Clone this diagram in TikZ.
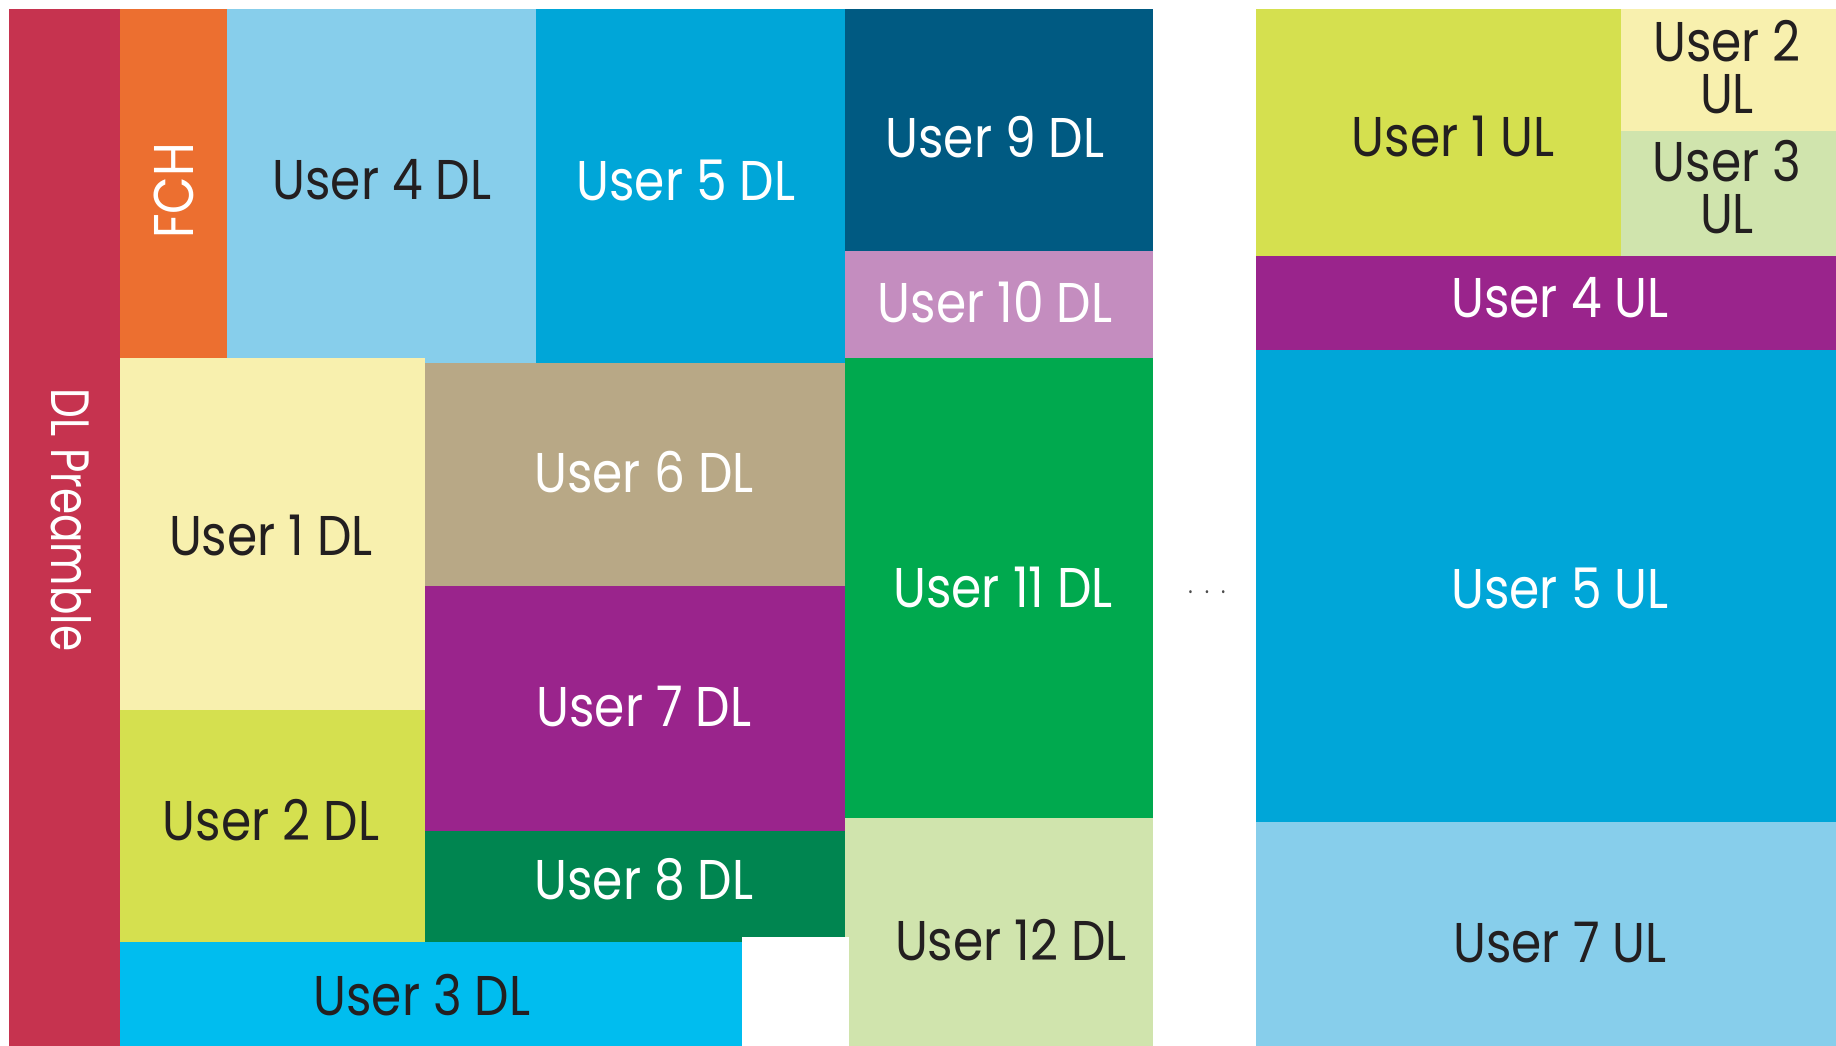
\documentclass[tikz,border=0pt]{standalone}
\usepackage{fontspec}
\setmainfont{Poppins}[FakeStretch=0.87]
\newfontfamily\narrowfont{Poppins}[FakeStretch=0.78]
\definecolor{ink}{HTML}{231F20}
\definecolor{preamble}{HTML}{C6334F}
\definecolor{fch}{HTML}{EC6F30}
\definecolor{skyblue}{HTML}{87CEEB}
\definecolor{midblue}{HTML}{00A6D8}
\definecolor{navy}{HTML}{005A82}
\definecolor{lilac}{HTML}{C48DBF}
\definecolor{cream}{HTML}{F8F0AE}
\definecolor{tan}{HTML}{B8A886}
\definecolor{plum}{HTML}{9A248C}
\definecolor{forest}{HTML}{008550}
\definecolor{lime}{HTML}{D5E04F}
\definecolor{cyan}{HTML}{00BDEF}
\definecolor{green}{HTML}{00A94E}
\definecolor{sage}{HTML}{D0E4AD}
\begin{document}
\begin{tikzpicture}[x=1pt,y=-1pt,
  lbl/.style={inner sep=0pt, font=\fontsize{56pt}{52pt}\selectfont, align=center},
  dark/.style={lbl, text=ink},
  light/.style={lbl, text=white}]
\useasboundingbox (0,0) rectangle (1836,1046);
% downlink subframe
\fill[preamble] (9,9) rectangle (120,1046);
\fill[fch] (120,9) rectangle (227,358);
\fill[skyblue] (227,9) rectangle (536,363);
\fill[midblue] (536,9) rectangle (845,363);
\fill[navy] (845,9) rectangle (1153,251);
\fill[lilac] (845,251) rectangle (1153,358);
\fill[cream] (120,358) rectangle (425,710);
\fill[tan] (425,363) rectangle (845,586);
\fill[plum] (425,586) rectangle (845,831);
\fill[forest] (425,831) rectangle (845,942);
\fill[lime] (120,710) rectangle (425,942);
\fill[cyan] (120,942) rectangle (742,1046);
\fill[green] (845,358) rectangle (1153,818);
\fill[sage] (845,818) rectangle (1153,1046);
\fill[white] (742,937) rectangle (849,1046);
% uplink subframe
\fill[lime] (1256,9) rectangle (1621,256);
\fill[cream] (1621,9) rectangle (1836,131);
\fill[sage] (1621,131) rectangle (1836,256);
\fill[plum] (1256,256) rectangle (1836,350);
\fill[midblue] (1256,350) rectangle (1836,822);
\fill[skyblue] (1256,822) rectangle (1836,1046);
% labels
\node[light, rotate=-90, font=\narrowfont\fontsize{54pt}{52pt}\selectfont] (pre) at (71,520) {DL Preamble};
\node[light, rotate=90] (fchl) at (174,191) {FCH};
\node[dark] (d4) at (382,180) {User 4 DL};
\node[light] (d5) at (686,180) {User 5 DL};
\node[light] (d9) at (995,137) {User 9 DL};
\node[light] (d10) at (995,302) {User 10 DL};
\node[dark] (d1) at (271,536) {User 1 DL};
\node[light] (d6) at (644,472) {User 6 DL};
\node[light] (d7) at (644,707) {User 7 DL};
\node[light] (d8) at (644,879) {User 8 DL};
\node[dark] (d2) at (271,820) {User 2 DL};
\node[dark] (d3) at (422,995) {User 3 DL};
\node[light] (d11) at (1003,588) {User 11 DL};
\node[dark] (d12) at (1011,940) {User 12 DL};
\node[lbl, text=black!70, font=\fontsize{24pt}{24pt}\selectfont] (gap) at (1207,592) {.\hspace{12pt}.\hspace{12pt}.};
\node[dark] (u1) at (1453,137) {User 1 UL};
\node[dark] (u2) at (1727,67) {User 2\\UL};
\node[dark] (u3) at (1727,187) {User 3\\UL};
\node[light] (u4) at (1560,298) {User 4 UL};
\node[light] (u5) at (1560,588) {User 5 UL};
\node[dark] (u7) at (1560,943) {User 7 UL};
\end{tikzpicture}
\end{document}
